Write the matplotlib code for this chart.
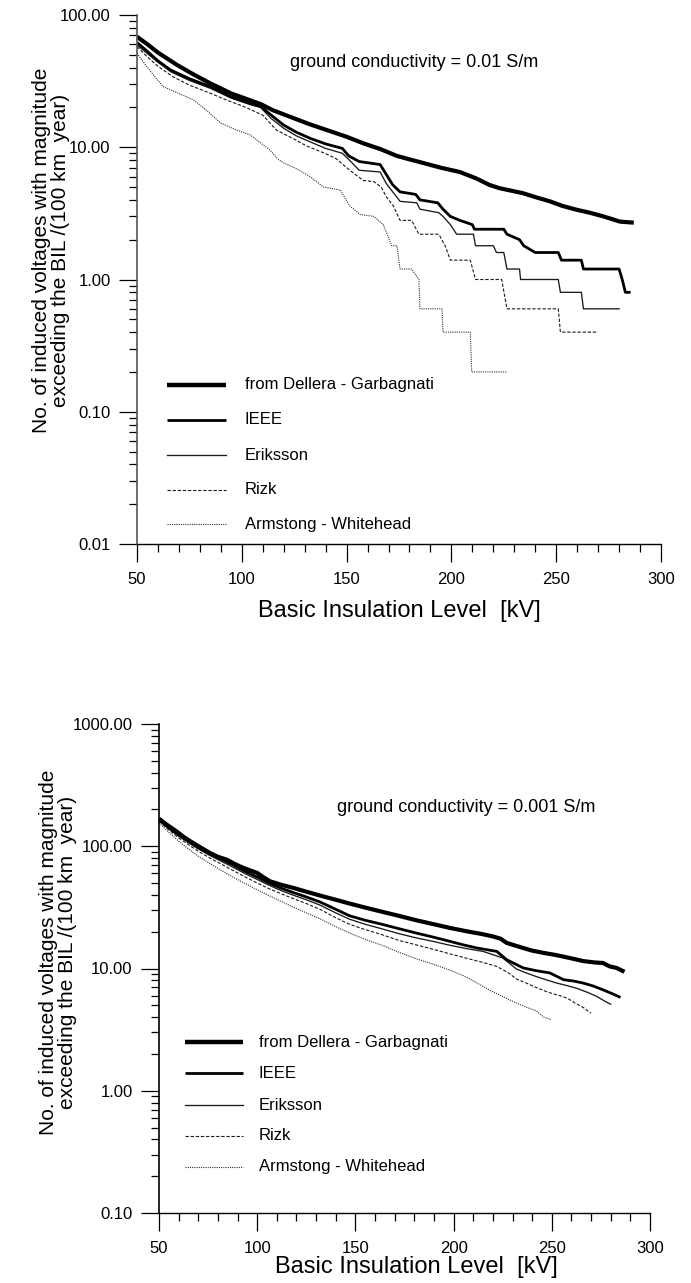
import matplotlib
matplotlib.use('Agg')
import matplotlib.pyplot as plt
from matplotlib.lines import Line2D
from matplotlib.ticker import FixedLocator, FuncFormatter, LogLocator, NullFormatter

# ---------------- data: top panel (ground conductivity = 0.01 S/m) ----------------
top_dellera_kv = [50, 55, 60, 69, 77, 85, 95, 109, 115, 123, 132, 140.5, 150, 158, 166, 174, 180,
                  186.6, 195, 204, 212, 218, 223, 234, 240, 247, 253, 260, 266, 272.5, 277, 280.4, 287]
top_dellera = [68.5, 60, 52, 42, 35.5, 30.4, 25.5, 21.2, 19, 17, 15, 13.5, 12, 10.7, 9.7, 8.6, 8.1,
               7.6, 7.0, 6.5, 5.8, 5.2, 4.9, 4.5, 4.2, 3.9, 3.6, 3.36, 3.2, 3.0, 2.85, 2.74, 2.69]

top_ieee_kv = [50, 55, 60, 66, 75, 85, 95, 104, 109, 114, 120, 126, 132.5, 140, 148, 151, 156, 166, 169,
               172, 175.5, 183, 185, 193.5, 196, 199.5, 204, 210, 211, 225, 226.5, 232.5, 234.5, 240,
               251, 252.5, 262, 263, 280, 281.5, 283, 285.5]
top_ieee = [62, 53, 45, 38.4, 33, 28.7, 24, 21.5, 20.3, 17.5, 14.7, 13, 11.7, 10.6, 9.8, 8.6, 7.8, 7.4, 6.2,
            5.2, 4.6, 4.4, 4.0, 3.8, 3.4, 3.0, 2.8, 2.6, 2.4, 2.4, 2.2, 2.0, 1.8, 1.6,
            1.6, 1.4, 1.4, 1.2, 1.2, 1.0, 0.8, 0.8]

top_eriksson_kv = [50, 55, 60, 66, 75, 85, 95, 104, 109, 114, 120, 126, 132.5, 140, 148, 152, 156, 166,
                   169, 172, 175.5, 183.5, 185, 194, 196, 199.5, 202.5, 210.5, 211.5, 220, 221.5, 225,
                   226.5, 232.5, 233, 251, 252, 262, 263, 280]
top_eriksson = [59.3, 51, 44, 37.3, 32, 27.9, 23.5, 21, 20.0, 16.5, 13.9, 12.2, 11.0, 9.8, 9.0, 7.8, 6.7, 6.5,
                5.3, 4.6, 3.9, 3.8, 3.4, 3.2, 3.0, 2.6, 2.2, 2.2, 1.8, 1.8, 1.6, 1.6,
                1.2, 1.2, 1.0, 1.0, 0.8, 0.8, 0.6, 0.6]

top_rizk_kv = [50, 55, 60, 67, 75, 85, 92, 101, 110, 116.5, 121, 126, 131, 136, 141, 145, 151.5, 158,
               163, 166.5, 169, 172.3, 175.5, 181, 184.5, 194, 197, 199.5, 209, 211.5, 224, 226.5,
               251, 252, 270]
top_rizk = [57.7, 48, 41, 34.2, 29.5, 25.6, 23, 20.3, 17.5, 13.5, 12.4, 11.3, 10.2, 9.5, 8.8, 8.2, 6.7, 5.6,
            5.5, 5.0, 4.2, 3.6, 2.8, 2.8, 2.2, 2.2, 1.8, 1.4, 1.4, 1.0, 1.0, 0.6,
            0.6, 0.4, 0.4]

top_armstrong_kv = [50, 55, 62.5, 70, 77, 84, 90, 97, 104, 113.5, 117, 120, 126, 132.5, 139, 147, 151.5,
                    156.5, 163, 167.5, 171.5, 174, 175.5, 181, 184.5, 185, 195.5, 196, 209, 209.7, 226.5]
top_armstrong = [51.3, 40, 28.7, 25.5, 22.8, 18.5, 15.2, 13.6, 12.4, 9.5, 8.2, 7.6, 6.9, 6.0, 5.0, 4.75, 3.6,
                 3.1, 3.0, 2.6, 1.8, 1.8, 1.2, 1.2, 1.0, 0.6, 0.6, 0.4, 0.4, 0.2, 0.2]

# ---------------- data: bottom panel (ground conductivity = 0.001 S/m) ----------------
bot_dellera_kv = [50, 54, 59, 63, 67.5, 72, 76, 80, 84.5, 89, 93, 97, 100, 103, 106.5, 112, 118.5, 125,
                  132, 140, 147, 155, 164, 172, 181, 190, 198, 207, 214, 220, 224, 227, 235.5, 240, 246,
                  252, 259, 266, 272, 276, 279.5, 283, 287]
bot_dellera = [168, 150, 132, 118, 106, 96, 88, 82, 77.7, 71, 66.5, 63, 60.5, 56, 51.7, 48.5, 45.6, 42.5,
               39.5, 36.5, 34, 31.5, 29, 27, 24.8, 23, 21.5, 20.1, 19.2, 18.3, 17.5, 16.2, 14.7, 14.0, 13.4,
               12.9, 12.2, 11.5, 11.2, 11.1, 10.4, 10.1, 9.4]

bot_ieee_kv = [50, 55, 60, 65, 70, 76, 82, 88, 94, 100, 106, 112, 118, 125, 132, 140, 147, 155, 164, 172,
               181, 190, 198, 205, 212, 222, 227, 235.5, 242, 249, 256, 261, 266, 271, 276, 281, 285]
bot_ieee = [165, 142, 124, 110, 98, 87, 78, 70, 62, 56, 50, 45.5, 42, 38.5, 35, 30.5, 27, 24.8, 22.9, 21.2,
            19.5, 18, 16.7, 15.6, 14.7, 13.8, 11.8, 10.1, 9.6, 9.2, 8.1, 7.9, 7.6, 7.2, 6.7, 6.2, 5.8]

bot_eriksson_kv = [50, 55, 60, 65, 70, 76, 82, 88, 94, 100, 106, 112, 118, 125, 132, 140, 147, 155, 164,
                   172, 181, 190, 198, 206, 215, 225, 232, 237, 242, 247, 252.5, 257, 262.5, 268, 273,
                   277, 280]
bot_eriksson = [162, 139, 121, 107, 95, 84, 75, 67, 59.5, 53.5, 48, 43.5, 40, 36.5, 33, 28.5, 25.3, 23, 21,
                19.3, 17.8, 16.6, 15.5, 14.6, 13.8, 12.2, 9.9, 9.2, 8.6, 8.1, 7.6, 7.3, 6.9, 6.4, 5.9,
                5.4, 5.1]

bot_rizk_kv = [50, 55, 60, 65, 70, 76, 82, 88, 94, 100, 106, 112, 118, 125, 132, 140, 147, 155, 164, 172,
               181, 190, 198, 206, 215, 222, 228, 232, 237, 242, 248, 254, 258, 262, 266, 270]
bot_rizk = [160, 136, 117, 103, 91, 80, 71, 63, 56, 50, 45, 41, 37.5, 34, 30.5, 26, 23, 20.8, 18.8, 17,
            15.6, 14.3, 13.2, 12.2, 11.2, 10.4, 9.2, 8.2, 7.6, 7.0, 6.4, 6.0, 5.7, 5.2, 4.8, 4.3]

bot_armstrong_kv = [50, 55, 60, 65, 70, 76, 82, 88, 94, 100, 106, 112, 118, 125, 132, 140, 147, 155, 164,
                    172, 181, 190, 198, 206, 212, 218, 224, 230, 236, 242, 246, 250]
bot_armstrong = [155, 130, 110, 95, 83, 72, 63, 55.5, 49.5, 44, 39.5, 35.5, 32, 28.5, 25.5, 22, 19.5, 17.3,
                 15.4, 13.6, 12.0, 10.8, 9.7, 8.6, 7.6, 6.7, 6.0, 5.4, 4.9, 4.5, 4.0, 3.8]

series_names = ["from Dellera - Garbagnati", "IEEE", "Eriksson", "Rizk", "Armstong - Whitehead"]
x_major_ticks = [50, 100, 150, 200, 250, 300]
x_minor_ticks = [60, 70, 80, 90, 110, 120, 130, 140, 160, 170, 180, 190, 210, 220, 230, 240,
                 260, 270, 280, 290]
top_ylim = (0.01, 100)
bot_ylim = (0.1, 1000)
top_note = "ground conductivity = 0.01 S/m"
bot_note = "ground conductivity = 0.001 S/m"
ylabel_text = "No. of induced voltages with magnitude\nexceeding the BIL /(100 km  year)"
xlabel_text = "Basic Insulation Level  [kV]"

# ---------------- styles ----------------
styles = [
    dict(color='black', lw=3.0, ls='-', solid_capstyle='butt'),
    dict(color='black', lw=2.0, ls='-', solid_capstyle='butt'),
    dict(color='#1a1a1a', lw=0.95, ls='-'),
    dict(color='#1a1a1a', lw=0.8, ls=(0, (3.0, 1.6))),
    dict(color='#333333', lw=0.8, ls=(0, (1.0, 1.0))),
]

W, H = 691, 1283
plt.rcParams['font.family'] = ['Liberation Sans', 'DejaVu Sans']
fig = plt.figure(figsize=(W / 100, H / 100), dpi=100)


def fx(x):
    return x / W


def fy(y):
    return 1 - y / H


def make_axes(l, r, t, b):
    return fig.add_axes([fx(l), fy(b), (r - l) / W, (b - t) / H])


def setup(ax, ylim, left_color):
    ax.set_yscale('log')
    ax.set_xlim(50, 300)
    ax.set_ylim(*ylim)
    for s in ('top', 'right'):
        ax.spines[s].set_visible(False)
    ax.spines['bottom'].set_linewidth(1.0)
    ax.spines['left'].set_linewidth(1.2)
    ax.spines['left'].set_color(left_color)
    ax.xaxis.set_major_locator(FixedLocator(x_major_ticks))
    ax.xaxis.set_minor_locator(FixedLocator(x_minor_ticks))
    ax.yaxis.set_major_locator(LogLocator(base=10, numticks=10))
    ax.yaxis.set_minor_locator(LogLocator(base=10, subs=range(2, 10), numticks=20))
    ax.yaxis.set_minor_formatter(NullFormatter())
    ax.yaxis.set_major_formatter(FuncFormatter(lambda v, p: f"{v:.2f}"))
    ax.tick_params(which='major', direction='out', length=13, width=0.9, labelsize=12, pad=6)
    ax.tick_params(which='minor', direction='out', length=6, width=0.9)
    ax.tick_params(axis='x', which='major', pad=7)
    ax.patch.set_alpha(0)


def legend(x0, x1, xt, ys):
    for name, st, y in zip(series_names, styles, ys):
        kw = dict(st)
        if name == series_names[0]:
            kw['lw'] = 3.2
        fig.add_artist(Line2D([fx(x0), fx(x1)], [fy(y), fy(y)], transform=fig.transFigure, **kw))
        fig.text(fx(xt), fy(y), name, fontsize=12, va='center', ha='left')


# ---- top ----
ax1 = make_axes(137, 661, 15, 544)
setup(ax1, top_ylim, '#555555')
top_sets = [(top_dellera_kv, top_dellera), (top_ieee_kv, top_ieee), (top_eriksson_kv, top_eriksson),
            (top_rizk_kv, top_rizk), (top_armstrong_kv, top_armstrong)]
for (xs, ys), st in zip(top_sets[::-1], styles[::-1]):
    ax1.plot(xs, ys, **st)
fig.text(fx(290), fy(67), top_note, fontsize=13, va='baseline', ha='left')
legend(167, 226, 245, [385, 420, 455, 490, 524])
fig.text(fx(51), fy(250), ylabel_text, rotation=90, fontsize=15, ha='center', va='center',
         multialignment='center', linespacing=1.05)
fig.text(fx(399), fy(617), xlabel_text, fontsize=17, ha='center', va='baseline')

# ---- bottom ----
ax2 = make_axes(159, 650, 724, 1213)
setup(ax2, bot_ylim, 'black')
bot_sets = [(bot_dellera_kv, bot_dellera), (bot_ieee_kv, bot_ieee), (bot_eriksson_kv, bot_eriksson),
            (bot_rizk_kv, bot_rizk), (bot_armstrong_kv, bot_armstrong)]
for (xs, ys), st in zip(bot_sets[::-1], styles[::-1]):
    ax2.plot(xs, ys, **st)
fig.text(fx(337), fy(812), bot_note, fontsize=13, va='baseline', ha='left')
legend(185, 243, 259, [1042, 1073, 1105, 1136, 1167])
fig.text(fx(58), fy(952), ylabel_text, rotation=90, fontsize=15, ha='center', va='center',
         multialignment='center', linespacing=1.05)
fig.text(fx(416), fy(1273), xlabel_text, fontsize=17, ha='center', va='baseline')

fig.savefig('out.png', dpi=100)
